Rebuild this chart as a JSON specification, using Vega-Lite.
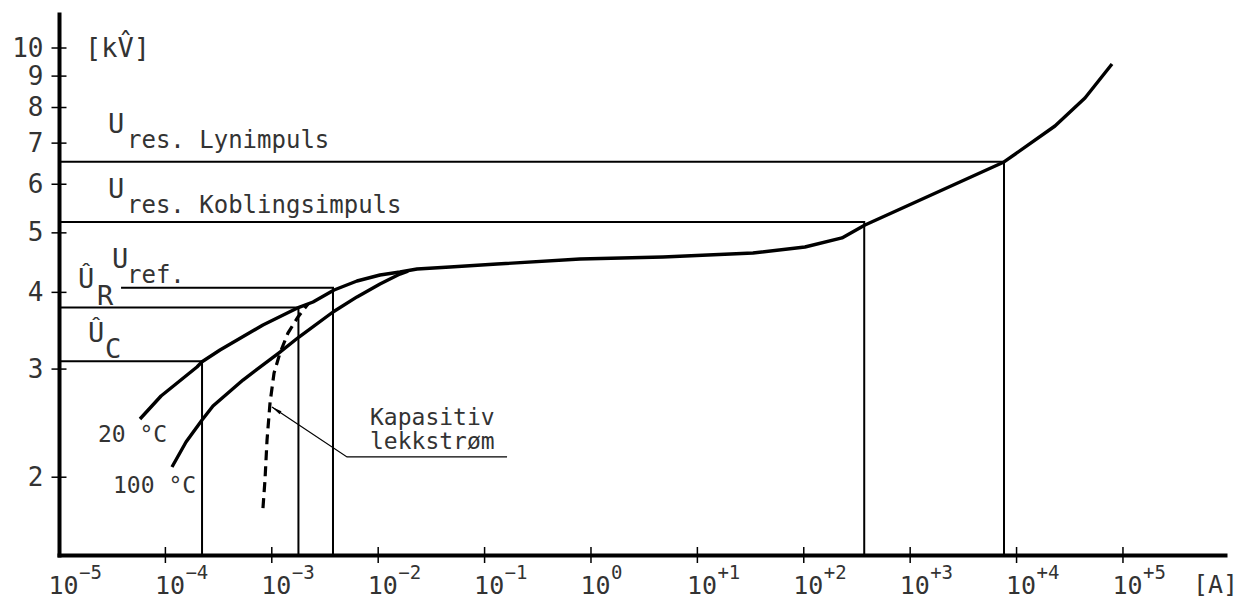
{
  "$schema": "https://vega.github.io/schema/vega-lite/v6.json",
  "width": 1166,
  "height": 541,
  "autosize": {"type": "none"},
  "padding": {"left": 59, "top": 14, "right": 16, "bottom": 43},
  "background": "white",
  "config": {"view": {"stroke": null}, "font": "DejaVu Sans Mono"},
  "datasets": {
    "curves": [
      {"g": "20C", "o": 1, "I": 5.77e-5, "U": 2.488},
      {"g": "20C", "o": 2, "I": 9.1e-5, "U": 2.712},
      {"g": "20C", "o": 3, "I": 1.98e-4, "U": 3.024},
      {"g": "20C", "o": 4, "I": 2.21e-4, "U": 3.084},
      {"g": "20C", "o": 5, "I": 3.26e-4, "U": 3.222},
      {"g": "20C", "o": 6, "I": 8.26e-4, "U": 3.539},
      {"g": "20C", "o": 7, "I": 1.80e-3, "U": 3.782},
      {"g": "20C", "o": 8, "I": 2.44e-3, "U": 3.858},
      {"g": "20C", "o": 9, "I": 3.85e-3, "U": 4.036},
      {"g": "20C", "o": 10, "I": 6.32e-3, "U": 4.174},
      {"g": "20C", "o": 11, "I": 0.0104, "U": 4.269},
      {"g": "20C", "o": 12, "I": 0.0160, "U": 4.317},
      {"g": "20C", "o": 13, "I": 0.0232, "U": 4.366},
      {"g": "20C", "o": 14, "I": 0.0473, "U": 4.398},
      {"g": "20C", "o": 15, "I": 0.131, "U": 4.448},
      {"g": "20C", "o": 16, "I": 0.789, "U": 4.533},
      {"g": "20C", "o": 17, "I": 4.75, "U": 4.567},
      {"g": "20C", "o": 18, "I": 33.3, "U": 4.636},
      {"g": "20C", "o": 19, "I": 102.6, "U": 4.742},
      {"g": "20C", "o": 20, "I": 228.6, "U": 4.905},
      {"g": "20C", "o": 21, "I": 376, "U": 5.149},
      {"g": "20C", "o": 22, "I": 7621, "U": 6.522},
      {"g": "20C", "o": 23, "I": 22960, "U": 7.464},
      {"g": "20C", "o": 24, "I": 43950, "U": 8.292},
      {"g": "20C", "o": 25, "I": 78890, "U": 9.417},
      {"g": "100C", "o": 1, "I": 1.153e-4, "U": 2.078},
      {"g": "100C", "o": 2, "I": 1.563e-4, "U": 2.282},
      {"g": "100C", "o": 3, "I": 2.21e-4, "U": 2.478},
      {"g": "100C", "o": 4, "I": 2.80e-4, "U": 2.612},
      {"g": "100C", "o": 5, "I": 5.36e-4, "U": 2.879},
      {"g": "100C", "o": 6, "I": 1.194e-3, "U": 3.198},
      {"g": "100C", "o": 7, "I": 1.80e-3, "U": 3.383},
      {"g": "100C", "o": 8, "I": 3.76e-3, "U": 3.716},
      {"g": "100C", "o": 9, "I": 6.32e-3, "U": 3.932},
      {"g": "100C", "o": 10, "I": 0.0104, "U": 4.127},
      {"g": "100C", "o": 11, "I": 0.0160, "U": 4.284},
      {"g": "100C", "o": 12, "I": 0.0191, "U": 4.333}
    ],
    "cap": [
      {"o": 1, "I": 8.26e-4, "U": 1.781},
      {"o": 2, "I": 8.63e-4, "U": 1.979},
      {"o": 3, "I": 9.02e-4, "U": 2.299},
      {"o": 4, "I": 9.62e-4, "U": 2.641},
      {"o": 5, "I": 1.050e-3, "U": 2.956},
      {"o": 6, "I": 1.194e-3, "U": 3.186},
      {"o": 7, "I": 1.419e-3, "U": 3.434},
      {"o": 8, "I": 1.762e-3, "U": 3.647},
      {"o": 9, "I": 2.188e-3, "U": 3.830}
    ],
    "refs": [
      {"g": "Lyn", "o": 1, "I": 1e-5, "U": 6.53},
      {"g": "Lyn", "o": 2, "I": 7620, "U": 6.53},
      {"g": "Lyn", "o": 3, "I": 7620, "U": 1.494},
      {"g": "Kob", "o": 1, "I": 1e-5, "U": 5.21},
      {"g": "Kob", "o": 2, "I": 370, "U": 5.21},
      {"g": "Kob", "o": 3, "I": 370, "U": 1.494},
      {"g": "Uref", "o": 1, "I": 3.83e-5, "U": 4.07},
      {"g": "Uref", "o": 2, "I": 3.76e-3, "U": 4.07},
      {"g": "Uref", "o": 3, "I": 3.76e-3, "U": 1.494},
      {"g": "UR", "o": 1, "I": 1e-5, "U": 3.78},
      {"g": "UR", "o": 2, "I": 1.78e-3, "U": 3.78},
      {"g": "UR", "o": 3, "I": 1.78e-3, "U": 1.494},
      {"g": "UC", "o": 1, "I": 1e-5, "U": 3.09},
      {"g": "UC", "o": 2, "I": 2.21e-4, "U": 3.09},
      {"g": "UC", "o": 3, "I": 2.21e-4, "U": 1.494}
    ],
    "leader": [
      {"o": 1, "I": 1.004e-3, "U": 2.602},
      {"o": 2, "I": 5.09e-3, "U": 2.158},
      {"o": 3, "I": 0.1626, "U": 2.158}
    ],
    "arrow": [{"I": 1.0998e-3, "U": 2.575}],
    "xticks": [
      {"I": 1e-4, "U": 1.494}, {"I": 1e-3, "U": 1.494}, {"I": 1e-2, "U": 1.494},
      {"I": 1e-1, "U": 1.494}, {"I": 1, "U": 1.494}, {"I": 10, "U": 1.494},
      {"I": 100, "U": 1.494}, {"I": 1000, "U": 1.494}, {"I": 10000, "U": 1.494},
      {"I": 100000, "U": 1.494}
    ],
    "xexp": [
      {"I": 1e-5, "U": 1.494, "e": "−5"}, {"I": 1e-4, "U": 1.494, "e": "−4"},
      {"I": 1e-3, "U": 1.494, "e": "−3"}, {"I": 1e-2, "U": 1.494, "e": "−2"},
      {"I": 1e-1, "U": 1.494, "e": "−1"}, {"I": 1, "U": 1.494, "e": "0"},
      {"I": 10, "U": 1.494, "e": "+1"}, {"I": 100, "U": 1.494, "e": "+2"},
      {"I": 1000, "U": 1.494, "e": "+3"}, {"I": 10000, "U": 1.494, "e": "+4"},
      {"I": 100000, "U": 1.494, "e": "+5"}
    ],
    "yticks": [
      {"I": 1e-5, "U": 2}, {"I": 1e-5, "U": 3}, {"I": 1e-5, "U": 4},
      {"I": 1e-5, "U": 5}, {"I": 1e-5, "U": 6}, {"I": 1e-5, "U": 7},
      {"I": 1e-5, "U": 8}, {"I": 1e-5, "U": 9}, {"I": 1e-5, "U": 10}
    ],
    "labels": [
      {"role": "main", "t": "[kV̂]", "I": 1.755e-5, "U": 9.668},
      {"role": "main", "t": "U", "I": 2.887e-5, "U": 7.272},
      {"role": "sub", "t": "res. Lynimpuls", "I": 4.355e-5, "U": 6.875},
      {"role": "main", "t": "U", "I": 2.887e-5, "U": 5.698},
      {"role": "sub", "t": "res. Koblingsimpuls", "I": 4.355e-5, "U": 5.386},
      {"role": "main", "t": "Û", "I": 1.509e-5, "U": 4.066},
      {"role": "main", "t": "R", "I": 2.276e-5, "U": 3.815},
      {"role": "main", "t": "U", "I": 3.148e-5, "U": 4.383},
      {"role": "sub", "t": "ref.", "I": 4.355e-5, "U": 4.143},
      {"role": "main", "t": "Û", "I": 1.874e-5, "U": 3.321},
      {"role": "main", "t": "C", "I": 2.706e-5, "U": 3.127},
      {"role": "note", "t": "20 °C", "I": 2.325e-5, "U": 2.282},
      {"role": "note", "t": "100 °C", "I": 3.217e-5, "U": 1.8849},
      {"role": "note", "t": "Kapasitiv", "I": 8.374e-3, "U": 2.43},
      {"role": "note", "t": "lekkstrøm", "I": 8.374e-3, "U": 2.225},
      {"role": "unit", "t": "[A]", "I": 4.55e5, "U": 1.2954}
    ]
  },
  "encoding": {
    "x": {
      "field": "I", "type": "quantitative",
      "scale": {"type": "log", "domain": [1e-5, 910000]},
      "axis": {
        "title": null, "values": [1e-5, 1e-4, 1e-3, 1e-2, 1e-1, 1, 10, 100, 1000, 10000, 100000],
        "labelExpr": "'10'",
        "ticks": false, "tickSize": 0, "grid": false,
        "domainColor": "black", "domainWidth": 4, "domainCap": "square",
        "labelFont": "DejaVu Sans Mono", "labelFontSize": 25, "labelColor": "#333",
        "labelAlign": "left", "labelOffset": -11, "labelPadding": 18, "labelBaseline": "top",
        "labelOverlap": false, "labelFlush": false
      }
    },
    "y": {
      "field": "U", "type": "quantitative",
      "scale": {"type": "log", "domain": [1.494, 11.36]},
      "axis": {
        "title": null, "values": [2, 3, 4, 5, 6, 7, 8, 9, 10], "format": "d",
        "ticks": false, "tickSize": 0, "grid": false,
        "domainColor": "black", "domainWidth": 4, "domainCap": "square",
        "labelFont": "DejaVu Sans Mono", "labelFontSize": 26, "labelColor": "#333",
        "labelPadding": 16, "labelBaseline": "middle",
        "labelOverlap": false, "labelFlush": false
      }
    }
  },
  "layer": [
    {
      "data": {"name": "refs"},
      "mark": {"type": "line", "color": "black", "strokeWidth": 2},
      "encoding": {"detail": {"field": "g"}, "order": {"field": "o", "type": "quantitative"}}
    },
    {
      "data": {"name": "curves"},
      "mark": {"type": "line", "color": "black", "strokeWidth": 3.4, "strokeJoin": "round"},
      "encoding": {"detail": {"field": "g"}, "order": {"field": "o", "type": "quantitative"}}
    },
    {
      "data": {"name": "cap"},
      "mark": {"type": "line", "color": "black", "strokeWidth": 3.2, "strokeDash": [10, 6]},
      "encoding": {"order": {"field": "o", "type": "quantitative"}}
    },
    {
      "data": {"name": "leader"},
      "mark": {"type": "line", "color": "black", "strokeWidth": 1.2},
      "encoding": {"order": {"field": "o", "type": "quantitative"}}
    },
    {
      "data": {"name": "arrow"},
      "mark": {"type": "point", "shape": "M0,-1L0.32,1L-0.32,1Z", "filled": true, "color": "black", "opacity": 1, "size": 110, "angle": 304}
    },
    {
      "data": {"name": "xticks"},
      "mark": {"type": "tick", "orient": "vertical", "color": "black", "size": 16, "thickness": 1.5, "opacity": 1}
    },
    {
      "data": {"name": "yticks"},
      "mark": {"type": "tick", "orient": "horizontal", "color": "black", "size": 15, "thickness": 1.5, "opacity": 1}
    },
    {
      "data": {"name": "xexp"},
      "mark": {"type": "text", "align": "left", "baseline": "alphabetic", "font": "DejaVu Sans Mono", "fontSize": 19, "color": "#333", "dx": 20, "dy": 24},
      "encoding": {"text": {"field": "e"}}
    },
    {
      "data": {"name": "labels"},
      "transform": [{"filter": "datum.role === 'main'"}],
      "mark": {"type": "text", "align": "left", "baseline": "alphabetic", "font": "DejaVu Sans Mono", "fontSize": 27, "color": "#333"},
      "encoding": {"text": {"field": "t"}}
    },
    {
      "data": {"name": "labels"},
      "transform": [{"filter": "datum.role === 'unit'"}],
      "mark": {"type": "text", "align": "left", "baseline": "alphabetic", "font": "DejaVu Sans Mono", "fontSize": 25, "color": "#333"},
      "encoding": {"text": {"field": "t"}}
    },
    {
      "data": {"name": "labels"},
      "transform": [{"filter": "datum.role === 'sub'"}],
      "mark": {"type": "text", "align": "left", "baseline": "alphabetic", "font": "DejaVu Sans Mono", "fontSize": 24, "color": "#333"},
      "encoding": {"text": {"field": "t"}}
    },
    {
      "data": {"name": "labels"},
      "transform": [{"filter": "datum.role === 'note'"}],
      "mark": {"type": "text", "align": "left", "baseline": "alphabetic", "font": "DejaVu Sans Mono", "fontSize": 23, "color": "#333"},
      "encoding": {"text": {"field": "t"}}
    }
  ]
}
